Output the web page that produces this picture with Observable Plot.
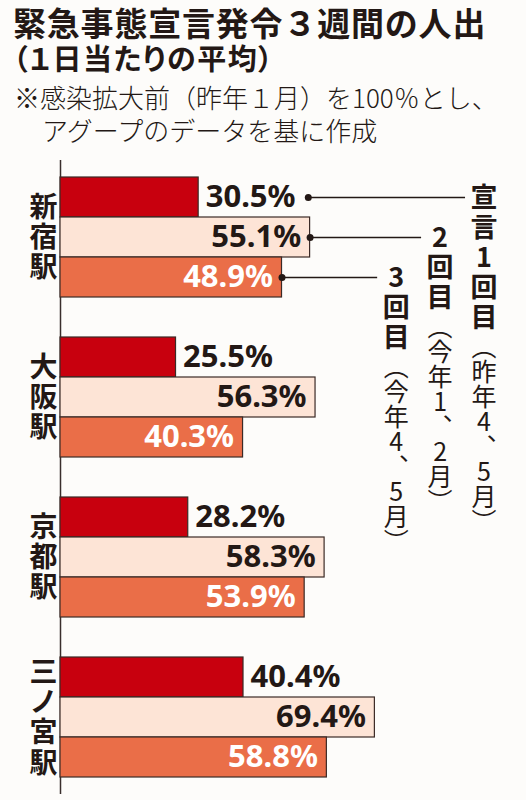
<!DOCTYPE html>
<html>
<head>
<meta charset="utf-8">
<script src="https://cdn.jsdelivr.net/npm/d3@7"></script>
<script src="https://cdn.jsdelivr.net/npm/@observablehq/plot@0.6"></script>
<style>
  body { margin: 0; background: #fdfcfa; color: #231815; font-family: "Noto Sans CJK JP", sans-serif; }
  #head { position: relative; width: 526px; height: 158px; }
  #head div { position: absolute; white-space: nowrap; line-height: 1.1; }
  .t1 { left: 13px; top: 4px; font-size: 33px; font-weight: 700; letter-spacing: 0.8px; }
  .t2 { left: 13px; top: 42px; font-size: 29px; font-weight: 700; font-feature-settings: "palt"; letter-spacing: 1.5px; }
  .n1 { left: 14px; top: 83px; font-size: 26px; font-weight: 300; }
  .n2 { left: 42px; top: 116px; font-size: 26px; font-weight: 300; }
  #chart svg { display: block; }
</style>
</head>
<body>
<div id="head">
  <div class="t1">緊急事態宣言発令３週間の人出</div>
  <div class="t2">（１日当たりの平均）</div>
  <div class="n1">※感染拡大前（昨年１月）を100％とし、</div>
  <div class="n2">アグープのデータを基に作成</div>
</div>
<div id="chart"></div>
<script>
const stations = ["新宿駅", "大阪駅", "京都駅", "三ノ宮駅"]
const roundHeads = ["宣言1回目", "2回目", "3回目"]
const roundPeriods = ["（昨年4、5月）", "（今年1、2月）", "（今年4、5月）"]
const first = [30.5, 25.5, 28.2, 40.4]
const second = [55.1, 56.3, 58.3, 69.4]
const third = [48.9, 40.3, 53.9, 58.8]

const ink = "#231815"
const barColors = ["#c8000e", "#fde4d6", "#ea6e48"]
// where the leader lines stop, in x units (legend columns sit just right of them)
const legendX = [89.3, 79.6, 69.9]
const labelGap = 24.2

const rows = stations.flatMap((s, i) =>
  [first[i], second[i], third[i]].map((v, j) => ({station: s, round: j, key: s + "|" + j, value: v})))

const yDomain = stations.flatMap((s, i) => {
  const k = [0, 1, 2].map(j => s + "|" + j)
  return i < stations.length - 1 ? [...k, s + "|gap"] : k
})

const lead = rows.filter(d => d.station === stations[0])
const leadStart = d => d.value + (d.round === 0 ? labelGap : 0)
const pct = d => d.value.toFixed(1) + "%"

const chart = Plot.plot({
  width: 526,
  height: 642,
  marginLeft: 60,
  marginRight: 13,
  marginTop: 2,
  marginBottom: 6,
  x: {domain: [0, 100], axis: null},
  y: {domain: yDomain, axis: null, padding: 0, insetTop: 10, insetBottom: 10},
  color: {type: "ordinal", domain: [0, 1, 2], range: barColors},
  style: {background: "transparent", fontFamily: "Noto Sans CJK JP", color: ink, overflow: "visible"},
  marks: [
    Plot.ruleX([0], {stroke: "#3a2e2c", strokeWidth: 1.5}),
    Plot.barX(rows, {x: "value", y: "key", fill: "round", stroke: "#3b2a26", strokeWidth: 1.2}),
    Plot.text(stations, {
      frameAnchor: "left", y: s => s + "|1", text: s => [...s].join("\n"),
      dx: -31, fontSize: 28, fontWeight: 700, lineHeight: 1.08, fill: ink
    }),
    Plot.text(rows.filter(d => d.round === 0), {
      x: "value", y: "key", text: pct, textAnchor: "start",
      dx: 7, fontSize: 31, fontWeight: 700, fontFamily: "Noto Sans", fill: ink
    }),
    Plot.text(rows.filter(d => d.round === 1), {
      x: "value", y: "key", text: pct, textAnchor: "end",
      dx: -9, fontSize: 31, fontWeight: 700, fontFamily: "Noto Sans", fill: ink
    }),
    Plot.text(rows.filter(d => d.round === 2), {
      x: "value", y: "key", text: pct, textAnchor: "end",
      dx: -9, fontSize: 31, fontWeight: 700, fontFamily: "Noto Sans", fill: "white"
    }),
    Plot.link(lead, {x1: leadStart, x2: d => legendX[d.round], y1: "key", y2: "key", stroke: ink, strokeWidth: 1.5}),
    Plot.dot(lead, {x: leadStart, y: "key", r: 3.5, fill: ink}),
    Plot.text(lead, {
      x: d => legendX[d.round], y: "key", text: d => roundHeads[d.round] + "|" + roundPeriods[d.round],
      dx: 19, dy: -14, textAnchor: "start", lineAnchor: "bottom", fontSize: 27, fill: ink
    })
  ]
})

// legend columns are set vertically, bold round name + regular period
d3.select(chart).selectAll("text").each(function () {
  const s = this.textContent
  if (!s.includes("|")) return
  const [head, tail] = s.split("|")
  const t = d3.select(this)
  t.text(null).attr("y", null)
    .style("writing-mode", "vertical-rl")
    .style("text-orientation", "upright")
  t.append("tspan").attr("font-weight", 700).attr("font-size", 27).style("letter-spacing", "3px").text(head)
  t.append("tspan").attr("font-weight", 400).attr("font-size", 25).text(tail)
})

d3.select("#chart").append(() => chart)
</script>
</body>
</html>
